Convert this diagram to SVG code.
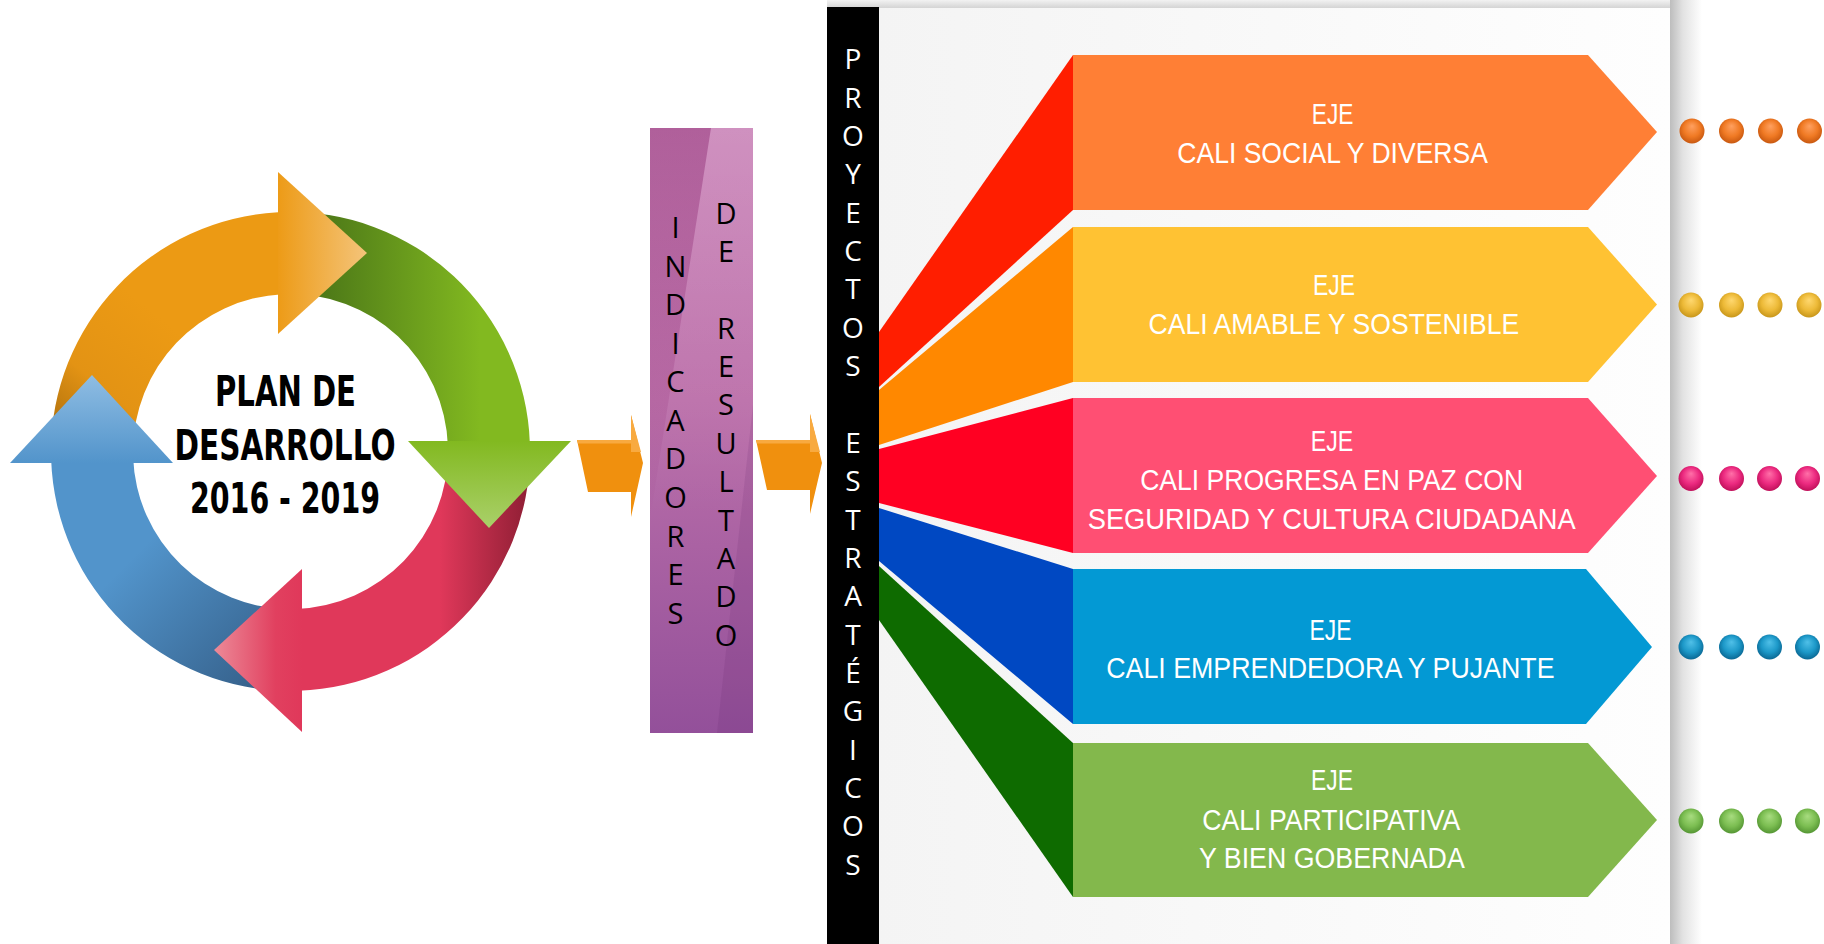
<svg xmlns="http://www.w3.org/2000/svg" width="1824" height="944" viewBox="0 0 1824 944">
<defs>
<style>
.cyc{font-family:"DejaVu Sans","Liberation Sans",sans-serif;font-weight:bold;font-size:42px;fill:#000;text-anchor:middle}
.vert{font-family:"Open Sans","DejaVu Sans",sans-serif;font-size:28px;text-anchor:middle}
.eje{font-family:"Liberation Sans",Arial,sans-serif;font-size:29px;fill:#fff;text-anchor:middle}
.do{fill:url(#dOr)}.dy{fill:url(#dYe)}.dp{fill:url(#dPk)}.db{fill:url(#dBl)}.dg{fill:url(#dGr)}
.blk{fill:#F0900E}
.blkhl{fill:#F8AA40}
</style>
<linearGradient id="gOB" gradientUnits="userSpaceOnUse" x1="60" y1="470" x2="175" y2="330"><stop offset="0" stop-color="#9A620B"/><stop offset="0.5" stop-color="#E39314"/><stop offset="1" stop-color="#EC9A14"/></linearGradient>
<linearGradient id="gOH" gradientUnits="userSpaceOnUse" x1="278" y1="0" x2="367" y2="0"><stop offset="0" stop-color="#ED9B17"/><stop offset="1" stop-color="#F4C47A"/></linearGradient>
<linearGradient id="gGB" gradientUnits="userSpaceOnUse" x1="325" y1="0" x2="480" y2="0"><stop offset="0" stop-color="#4E7A18"/><stop offset="1" stop-color="#82B920"/></linearGradient>
<linearGradient id="gGH" gradientUnits="userSpaceOnUse" x1="0" y1="441" x2="0" y2="528"><stop offset="0" stop-color="#82B920"/><stop offset="1" stop-color="#AAD06A"/></linearGradient>
<linearGradient id="gRB" gradientUnits="userSpaceOnUse" x1="530" y1="0" x2="440" y2="0"><stop offset="0" stop-color="#8E1E34"/><stop offset="1" stop-color="#E0385A"/></linearGradient>
<linearGradient id="gRH" gradientUnits="userSpaceOnUse" x1="302" y1="0" x2="214" y2="0"><stop offset="0" stop-color="#E0385A"/><stop offset="0.3" stop-color="#E1405F"/><stop offset="1" stop-color="#EC8A98"/></linearGradient>
<linearGradient id="gBB" gradientUnits="userSpaceOnUse" x1="260" y1="690" x2="130" y2="560"><stop offset="0" stop-color="#35608A"/><stop offset="1" stop-color="#5294CB"/></linearGradient>
<linearGradient id="gBH" gradientUnits="userSpaceOnUse" x1="0" y1="463" x2="0" y2="375"><stop offset="0" stop-color="#5294CB"/><stop offset="1" stop-color="#8FBDE3"/></linearGradient>
<linearGradient id="gPur" x1="0" y1="0" x2="0" y2="1"><stop offset="0" stop-color="#C982B7"/><stop offset="0.45" stop-color="#BC70AA"/><stop offset="1" stop-color="#93509A"/></linearGradient>
<linearGradient id="gPurTL" gradientUnits="userSpaceOnUse" x1="0" y1="128" x2="0" y2="520"><stop offset="0" stop-color="#8A2C70" stop-opacity="0.4"/><stop offset="1" stop-color="#8A2C70" stop-opacity="0"/></linearGradient>
<linearGradient id="gPurTR" gradientUnits="userSpaceOnUse" x1="0" y1="128" x2="0" y2="520"><stop offset="0" stop-color="#FFFFFF" stop-opacity="0.12"/><stop offset="1" stop-color="#FFFFFF" stop-opacity="0"/></linearGradient>
<linearGradient id="gPanel" x1="0" y1="0" x2="1" y2="0"><stop offset="0" stop-color="#F4F4F4"/><stop offset="1" stop-color="#FEFEFE"/></linearGradient>
<linearGradient id="gShR" x1="0" y1="0" x2="1" y2="0"><stop offset="0" stop-color="#BDBDBD"/><stop offset="0.4" stop-color="#E2E2E2"/><stop offset="1" stop-color="#FFFFFF"/></linearGradient>
<linearGradient id="gShT" x1="0" y1="0" x2="0" y2="1"><stop offset="0" stop-color="#F2F2F2"/><stop offset="1" stop-color="#D4D4D4"/></linearGradient>
<radialGradient id="dOr" cx="0.5" cy="0.45" r="0.55" fx="0.5" fy="0.3"><stop offset="0" stop-color="#FFA060"/><stop offset="0.6" stop-color="#F07A24"/><stop offset="1" stop-color="#C85810"/></radialGradient>
<radialGradient id="dYe" cx="0.5" cy="0.45" r="0.55" fx="0.5" fy="0.3"><stop offset="0" stop-color="#FFD870"/><stop offset="0.6" stop-color="#EDBA38"/><stop offset="1" stop-color="#C8961A"/></radialGradient>
<radialGradient id="dPk" cx="0.5" cy="0.45" r="0.55" fx="0.5" fy="0.3"><stop offset="0" stop-color="#FF70A8"/><stop offset="0.6" stop-color="#EC2A80"/><stop offset="1" stop-color="#C0105A"/></radialGradient>
<radialGradient id="dBl" cx="0.5" cy="0.45" r="0.55" fx="0.5" fy="0.3"><stop offset="0" stop-color="#50C0E8"/><stop offset="0.6" stop-color="#1C98C8"/><stop offset="1" stop-color="#0A6894"/></radialGradient>
<radialGradient id="dGr" cx="0.5" cy="0.45" r="0.55" fx="0.5" fy="0.3"><stop offset="0" stop-color="#A8DC80"/><stop offset="0.6" stop-color="#7CBE52"/><stop offset="1" stop-color="#559634"/></radialGradient>
</defs>

<rect width="1824" height="944" fill="#fff"/>

<g id="cycle">
<path d="M51,451.5 A239.5,239.5 0 0 1 277.96,212.33 L282.26,294.22 A157.5,157.5 0 0 0 133,451.5 Z" fill="url(#gOB)"/>
<path d="M282.14,212.15 A239.5,239.5 0 0 1 529.85,443.14 L447.9,446 A157.5,157.5 0 0 0 285,294.1 Z" fill="url(#gGB)"/>
<path d="M530,451.5 A239.5,239.5 0 0 1 298.86,690.85 L296,608.9 A157.5,157.5 0 0 0 448,451.5 Z" fill="url(#gRB)"/>
<path d="M290.5,691 A239.5,239.5 0 0 1 51.15,459.86 L133.1,457 A157.5,157.5 0 0 0 290.5,609 Z" fill="url(#gBB)"/>
<polygon points="278,172 367,253 278,334" fill="url(#gOH)"/>
<polygon points="408,441 571,441 489,528" fill="url(#gGH)"/>
<polygon points="302,569 214,650 302,732" fill="url(#gRH)"/>
<polygon points="10,463 92,375 173,463" fill="url(#gBH)"/>
</g>

<g id="plan-text">
<text class="cyc" x="285.5" y="406" textLength="141" lengthAdjust="spacingAndGlyphs">PLAN DE</text>
<text class="cyc" x="285" y="460" textLength="221" lengthAdjust="spacingAndGlyphs">DESARROLLO</text>
<text class="cyc" x="285" y="513" textLength="190" lengthAdjust="spacingAndGlyphs">2016 - 2019</text>
</g>

<g id="indicadores">
<rect x="650" y="128" width="103" height="605" fill="url(#gPur)"/>
<polygon points="650,128 711,128 650,520" fill="url(#gPurTL)"/>
<polygon points="711,128 753,128 753,520 650,520" fill="url(#gPurTR)"/>
<polygon points="753,405 753,733 717,733" fill="#5A1E64" opacity="0.13"/>
<text class="vert" fill="#000" style="font-size:29px">
<tspan x="675.5" y="238">I</tspan><tspan x="675.5" y="276.6">N</tspan><tspan x="675.5" y="315.1">D</tspan><tspan x="675.5" y="353.7">I</tspan><tspan x="675.5" y="392.2">C</tspan><tspan x="675.5" y="430.8">A</tspan><tspan x="675.5" y="469.4">D</tspan><tspan x="675.5" y="507.9">O</tspan><tspan x="675.5" y="546.5">R</tspan><tspan x="675.5" y="585">E</tspan><tspan x="675.5" y="623.6">S</tspan>
</text>
<text class="vert" fill="#000" style="font-size:29px">
<tspan x="726" y="223.6">D</tspan><tspan x="726" y="262">E</tspan><tspan x="726" y="338.7">R</tspan><tspan x="726" y="377">E</tspan><tspan x="726" y="415.4">S</tspan><tspan x="726" y="453.8">U</tspan><tspan x="726" y="492.2">L</tspan><tspan x="726" y="530.5">T</tspan><tspan x="726" y="568.9">A</tspan><tspan x="726" y="607.2">D</tspan><tspan x="726" y="645.6">O</tspan>
</text>
</g>

<g id="panel">
<rect x="827" y="0" width="843" height="8" fill="url(#gShT)"/>
<rect x="1670" y="0" width="32" height="944" fill="url(#gShR)"/>
<rect x="879" y="8" width="791" height="936" fill="url(#gPanel)"/>
</g>

<g id="proyectos">
<rect x="827" y="7" width="52" height="937" fill="#000"/>
<text class="vert" fill="#fff">
<tspan x="853" y="69.3">P</tspan><tspan x="853" y="107.6">R</tspan><tspan x="853" y="146">O</tspan><tspan x="853" y="184.3">Y</tspan><tspan x="853" y="222.7">E</tspan><tspan x="853" y="261">C</tspan><tspan x="853" y="299.4">T</tspan><tspan x="853" y="337.7">O</tspan><tspan x="853" y="376">S</tspan><tspan x="853" y="452.8">E</tspan><tspan x="853" y="491.1">S</tspan><tspan x="853" y="529.5">T</tspan><tspan x="853" y="567.8">R</tspan><tspan x="853" y="606.2">A</tspan><tspan x="853" y="644.5">T</tspan><tspan x="853" y="682.9">É</tspan><tspan x="853" y="721.2">G</tspan><tspan x="853" y="759.6">I</tspan><tspan x="853" y="797.9">C</tspan><tspan x="853" y="836.3">O</tspan><tspan x="853" y="874.6">S</tspan>
</text>
</g>

<g id="connectors">
<g id="arrow-1">
<polygon class="blk" points="577,440 631,440 631,415 643,463 631,517 631,492 588,492"/>
<polygon class="blkhl" points="577,440 631,440 631,443.5 578,443.5"/>
<polygon class="blkhl" points="631,415 641,452 631,452"/>
</g>
<g id="arrow-2">
<polygon class="blk" points="756,440 810,440 810,414 822,463 810,514 810,490 767,490"/>
<polygon class="blkhl" points="756,440 810,440 810,443.5 757,443.5"/>
<polygon class="blkhl" points="810,414 820,452 810,452"/>
</g>
<polygon points="879,332 1073,55 1073,210 879,387" fill="#FF1E00"/>
<polygon points="879,390 1073,227 1073,382 879,445" fill="#FF8800"/>
<polygon points="879,449 1073,398 1073,553 879,503" fill="#FF0022"/>
<polygon points="879,508 1073,569 1073,724 879,561" fill="#0048C2"/>
<polygon points="879,566 1073,743 1073,897 879,620" fill="#0E6B00"/>
</g>

<g id="eje-1">
<polygon points="1073,55 1588,55 1657,132 1588,210 1073,210" fill="#FF7F35"/>
<text class="eje" x="1332.6" y="124" textLength="41.6" lengthAdjust="spacingAndGlyphs">EJE</text>
<text class="eje" x="1332.6" y="163.3" textLength="310.6" lengthAdjust="spacingAndGlyphs">CALI SOCIAL Y DIVERSA</text>
</g>
<g id="eje-2">
<polygon points="1073,227 1588,227 1657,304.5 1588,382 1073,382" fill="#FFC233"/>
<text class="eje" x="1334" y="295" textLength="42" lengthAdjust="spacingAndGlyphs">EJE</text>
<text class="eje" x="1333.9" y="334.3" textLength="370.7" lengthAdjust="spacingAndGlyphs">CALI AMABLE Y SOSTENIBLE</text>
</g>
<g id="eje-3">
<polygon points="1073,398 1588,398 1657,476 1588,553 1073,553" fill="#FF4F73"/>
<text class="eje" x="1332" y="451.2" textLength="42.5" lengthAdjust="spacingAndGlyphs">EJE</text>
<text class="eje" x="1331.7" y="489.5" textLength="383" lengthAdjust="spacingAndGlyphs">CALI PROGRESA EN PAZ CON</text>
<text class="eje" x="1331.7" y="529.1" textLength="488" lengthAdjust="spacingAndGlyphs">SEGURIDAD Y CULTURA CIUDADANA</text>
</g>
<g id="eje-4">
<polygon points="1073,569 1586,569 1652,647 1586,724 1073,724" fill="#0399D4"/>
<text class="eje" x="1330.5" y="640.1" textLength="42" lengthAdjust="spacingAndGlyphs">EJE</text>
<text class="eje" x="1330.4" y="678.3" textLength="448.3" lengthAdjust="spacingAndGlyphs">CALI EMPRENDEDORA Y PUJANTE</text>
</g>
<g id="eje-5">
<polygon points="1073,743 1588,743 1657,820 1588,897 1073,897" fill="#83B84C"/>
<text class="eje" x="1332" y="790.4" textLength="42" lengthAdjust="spacingAndGlyphs">EJE</text>
<text class="eje" x="1331.3" y="829.6" textLength="258" lengthAdjust="spacingAndGlyphs">CALI PARTICIPATIVA</text>
<text class="eje" x="1331.9" y="867.7" textLength="265.8" lengthAdjust="spacingAndGlyphs">Y BIEN GOBERNADA</text>
</g>

<g id="dots">
<circle class="do" cx="1692" cy="131" r="12.5"/><circle class="do" cx="1731.5" cy="131" r="12.5"/><circle class="do" cx="1770.5" cy="131" r="12.5"/><circle class="do" cx="1809.5" cy="131" r="12.5"/>
<circle class="dy" cx="1691" cy="305" r="12.5"/><circle class="dy" cx="1731.5" cy="305" r="12.5"/><circle class="dy" cx="1770" cy="305" r="12.5"/><circle class="dy" cx="1809" cy="305" r="12.5"/>
<circle class="dp" cx="1691" cy="478.5" r="12.5"/><circle class="dp" cx="1731.5" cy="478.5" r="12.5"/><circle class="dp" cx="1769.5" cy="478.5" r="12.5"/><circle class="dp" cx="1807.5" cy="478.5" r="12.5"/>
<circle class="db" cx="1691" cy="647" r="12.5"/><circle class="db" cx="1731.5" cy="647" r="12.5"/><circle class="db" cx="1769.5" cy="647" r="12.5"/><circle class="db" cx="1807.5" cy="647" r="12.5"/>
<circle class="dg" cx="1691" cy="821" r="12.5"/><circle class="dg" cx="1731.5" cy="821" r="12.5"/><circle class="dg" cx="1769.5" cy="821" r="12.5"/><circle class="dg" cx="1807.5" cy="821" r="12.5"/>
</g>
</svg>
